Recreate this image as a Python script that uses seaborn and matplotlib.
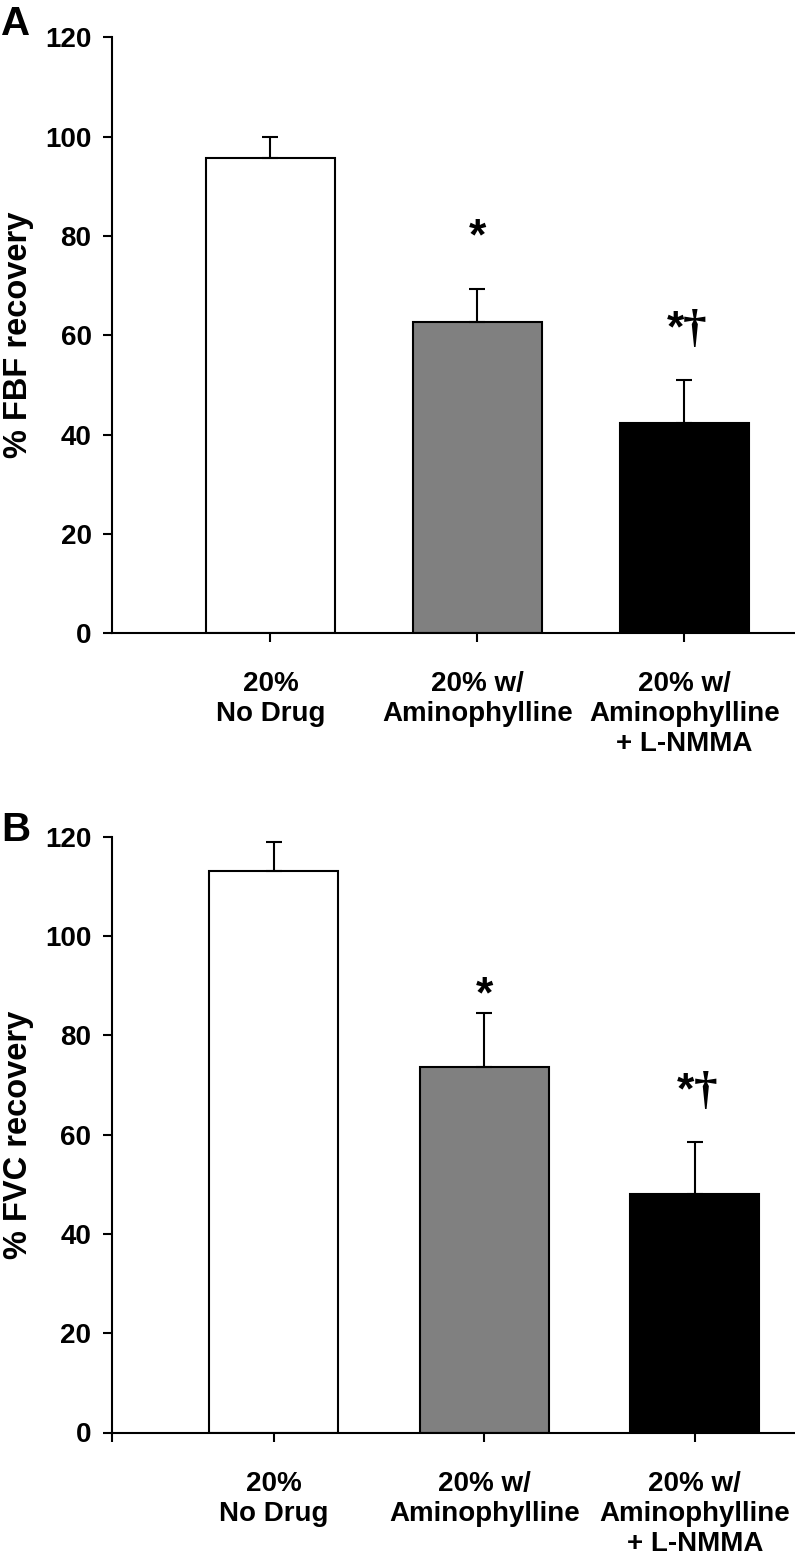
import numpy as np
import matplotlib
matplotlib.use("Agg")
import matplotlib.pyplot as plt
import seaborn as sns

# values
categories = ["20%\nNo Drug", "20% w/\nAminophylline", "20% w/\nAminophylline\n+ L-NMMA"]
bar_colors = ["white", "#808080", "black"]

fbf_mean = [95.6, 62.6, 42.3]
fbf_sem = [4.3, 6.8, 8.8]
fvc_mean = [113.0, 73.7, 48.0]
fvc_sem = [6.0, 10.7, 10.6]

# significance marks: star baseline and dagger top (data units), None = no mark
fbf_star_y = [None, 77.3, 58.7]
fbf_dagger_y = [None, None, 65.3]
fvc_star_y = [None, 85.6, 66.3]
fvc_dagger_y = [None, None, 72.9]

y_ticks = [0, 20, 40, 60, 80, 100, 120]

sns.set_style("ticks")
plt.rcParams["font.family"] = ["Liberation Sans", "DejaVu Sans"]
plt.rcParams["text.color"] = "black"
plt.rcParams["axes.labelcolor"] = "black"
plt.rcParams["xtick.color"] = "black"
plt.rcParams["ytick.color"] = "black"

fig = plt.figure(figsize=(7.95, 15.6), dpi=100)
W, H = 795, 1560


def panel(rect, means, sems, ylabel, star_y, dagger_y, xlim, width, left_tick):
    ax = fig.add_axes(rect)
    pal = dict(zip(categories, bar_colors))
    sns.barplot(x=categories, y=means, hue=categories, palette=pal, saturation=1,
                edgecolor="black", linewidth=1.5, width=width, legend=False, ax=ax)
    pos = np.arange(len(categories))
    ax.errorbar(pos, means, yerr=[np.zeros(len(sems)), sems], fmt="none",
                ecolor="black", elinewidth=1.5, capsize=5.5, capthick=1.5, zorder=1)
    for p, sy, dy in zip(pos, star_y, dagger_y):
        if sy is None:
            continue
        if dy is None:
            ax.text(p, sy, "*", ha="center", va="baseline", fontsize=32, fontweight="bold")
        else:
            ax.text(p - 0.045, sy, "*", ha="center", va="baseline", fontsize=32,
                    fontweight="bold")
            ax.text(p + 0.05, dy, "\u2020", ha="center", va="top", fontsize=34,
                    fontweight="bold", family=["Liberation Serif", "DejaVu Serif"])
    ax.set_ylim(0, 120)
    ax.set_xlim(*xlim)
    ax.set_yticks(y_ticks)
    ax.set_yticklabels([str(t) for t in y_ticks], fontweight="bold", fontsize=20)
    if left_tick:
        ax.set_xticks([xlim[0]] + list(pos))
        ax.set_xticklabels([""] + categories, fontweight="bold", fontsize=20, linespacing=1.2)
    else:
        ax.set_xticks(pos)
        ax.set_xticklabels(categories, fontweight="bold", fontsize=20, linespacing=1.2)
    ax.tick_params(axis="both", direction="out", length=6.5, width=1.5, color="black")
    ax.tick_params(axis="x", pad=21)
    ax.tick_params(axis="y", pad=8)
    sns.despine(ax=ax)
    for s in ["left", "bottom"]:
        ax.spines[s].set_linewidth(1.5)
        ax.spines[s].set_color("black")
    ax.set_xlabel("")
    ax.set_ylabel(ylabel, fontsize=23.5, fontweight="bold")
    ax.yaxis.set_label_coords(-0.113, 0.5)
    return ax


# panel A
axA = panel([111.7 / W, 1 - 633.3 / H, 1 - 111.7 / W, (633.3 - 37.3) / H],
            fbf_mean, fbf_sem, "% FBF recovery", fbf_star_y, fbf_dagger_y,
            (-0.767, 2.534), 0.62, False)
# panel B
axB = panel([111.5 / W, 1 - 1432.5 / H, 1 - 111.5 / W, (1432.5 - 836.7) / H],
            fvc_mean, fvc_sem, "% FVC recovery", fvc_star_y, fvc_dagger_y,
            (-0.771, 2.476), 0.613, True)

fig.text(1 / W, 1 - 5 / H, "A", fontsize=29, fontweight="bold", va="top", ha="left")
fig.text(1 / W, 1 - 811 / H, "B", fontsize=29, fontweight="bold", va="top", ha="left")

fig.savefig("out.png", dpi=100)
